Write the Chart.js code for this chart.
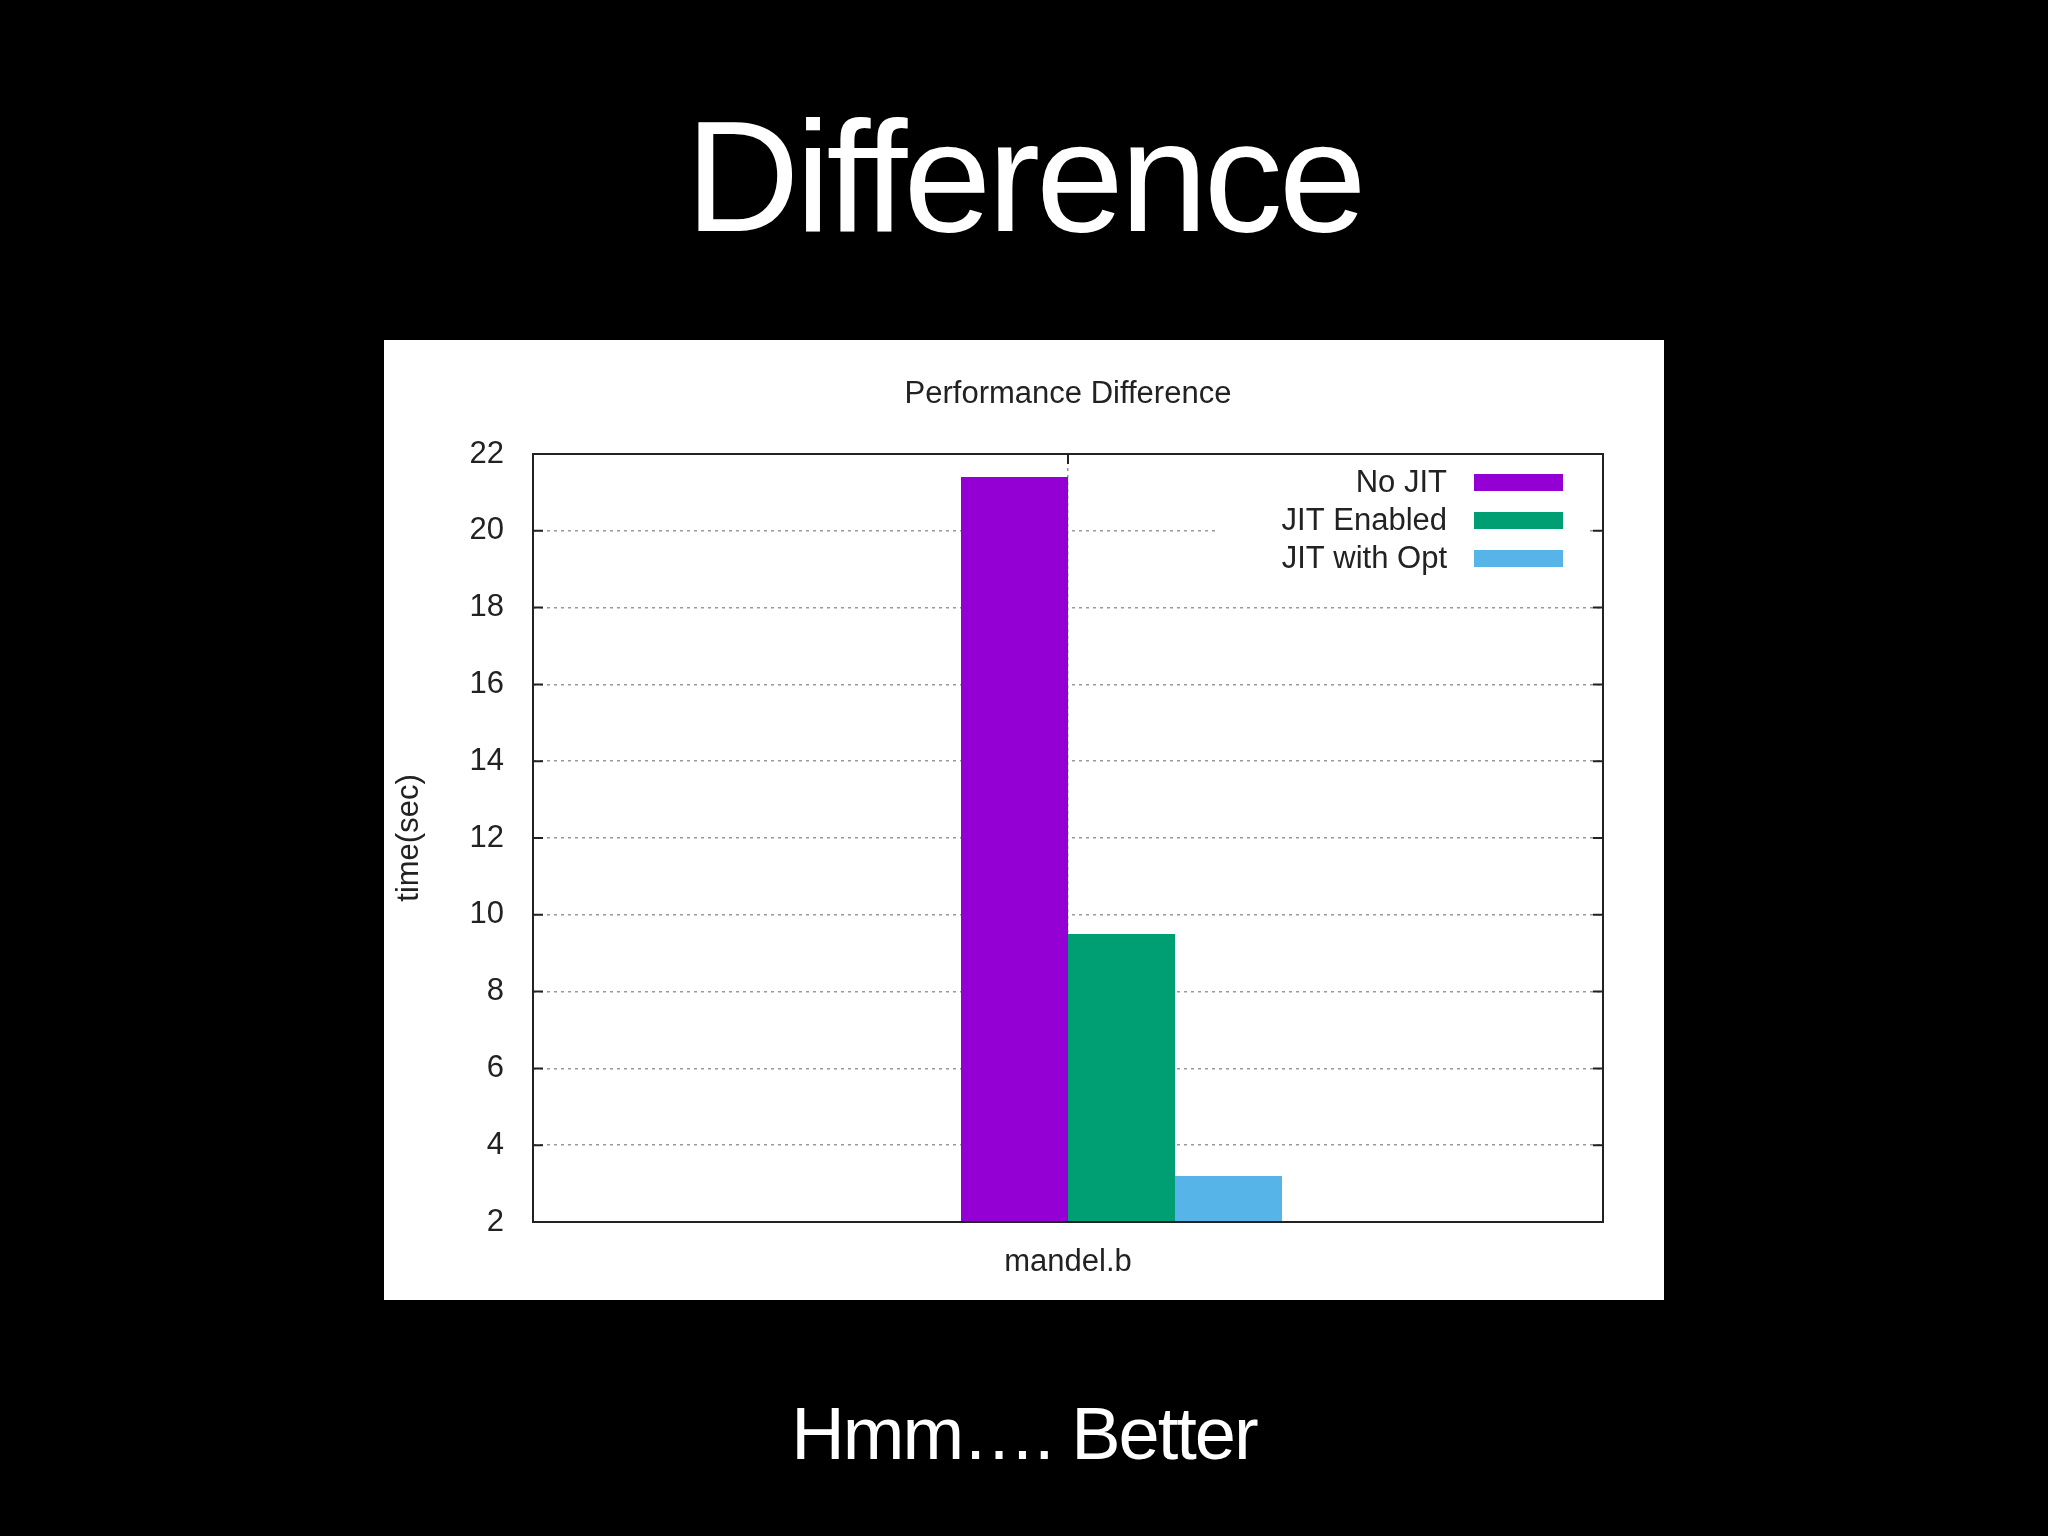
<!DOCTYPE html>
<html>
<head>
<meta charset="utf-8">
<script src="https://cdn.jsdelivr.net/npm/chart.js@4/dist/chart.umd.min.js"></script>
<style>
  html, body { margin: 0; padding: 0; background: #000; width: 2048px; height: 1536px; overflow: hidden; }
  .slideText { position: absolute; left: 0; width: 2048px; text-align: center; color: #fff;
    font-family: "Liberation Sans", Arial, sans-serif; line-height: 1; white-space: nowrap; }
  #heading { top: 97px; font-size: 158px; letter-spacing: -4px; }
  #caption { top: 1397px; font-size: 74px; letter-spacing: -2px; }
  #panel { position: absolute; left: 384px; top: 340px; width: 1280px; height: 960px; background: #fff; }
</style>
</head>
<body>
<div id="heading" class="slideText">Difference</div>
<div id="panel"><canvas id="chart"></canvas></div>
<div id="caption" class="slideText">Hmm…. Better</div>
<script>
'use strict';
let categories = ['mandel.b'];
let seriesNames = ['No JIT', 'JIT Enabled', 'JIT with Opt'];
let noJit = [21.4];
let jitEnabled = [9.5];
let jitWithOpt = [3.2];
let seriesColors = ['#9400d3', '#009e73', '#56b4e9'];
let yTicks = [2, 4, 6, 8, 10, 12, 14, 16, 18, 20, 22];
let chartTitle = 'Performance Difference';
let yTitle = 'time(sec)';

const textFont = { family: '"Liberation Sans", Arial, sans-serif', size: 31 };
const inkColor = '#222';

// gnuplot style: title, frame, inward ticks and the key inside the plot
const gnuplotLook = {
  id: 'gnuplotLook',
  afterDraw(chart) {
    const ctx = chart.ctx;
    const area = chart.chartArea;
    const yScale = chart.scales.y;
    const xScale = chart.scales.x;
    ctx.save();
    // key background covers the grid
    ctx.fillStyle = '#fff';
    ctx.fillRect(area.right - 388, area.top + 4, 372, 132);
    // key entries
    ctx.font = textFont.size + 'px ' + textFont.family;
    ctx.textAlign = 'right';
    ctx.textBaseline = 'middle';
    let row = 0;
    chart.data.datasets.forEach(ds => {
      if (!ds.label) return;
      const y = area.top + 28 + row * 38;
      ctx.fillStyle = inkColor;
      ctx.fillText(ds.label, area.right - 156, y + 1);
      ctx.fillStyle = ds.backgroundColor;
      ctx.fillRect(area.right - 129, y - 8, 89, 17);
      row++;
    });
    // inward ticks
    ctx.strokeStyle = inkColor;
    ctx.lineWidth = 2;
    ctx.beginPath();
    yTicks.forEach(v => {
      const py = yScale.getPixelForValue(v);
      ctx.moveTo(area.left, py); ctx.lineTo(area.left + 10, py);
      ctx.moveTo(area.right, py); ctx.lineTo(area.right - 10, py);
    });
    const px = xScale.getPixelForValue(0);
    ctx.moveTo(px, area.top); ctx.lineTo(px, area.top + 10);
    ctx.stroke();
    // frame
    ctx.strokeRect(area.left, area.top, area.right - area.left, area.bottom - area.top);
    // title
    ctx.fillStyle = inkColor;
    ctx.textAlign = 'center';
    ctx.fillText(chartTitle, (area.left + area.right) / 2, 54);
    ctx.restore();
  }
};

const datasets = [
  // empty slot so the cluster starts at the tic like gnuplot does
  { label: '', data: [null], backgroundColor: 'rgba(0,0,0,0)' },
  { label: seriesNames[0], data: noJit, backgroundColor: seriesColors[0] },
  { label: seriesNames[1], data: jitEnabled, backgroundColor: seriesColors[1] },
  { label: seriesNames[2], data: jitWithOpt, backgroundColor: seriesColors[2] }
];
datasets.forEach(ds => {
  ds.borderWidth = 0;
  ds.categoryPercentage = 0.4;
  ds.barPercentage = 1.0;
});

new Chart(document.getElementById('chart'), {
  type: 'bar',
  data: { labels: categories, datasets: datasets },
  plugins: [gnuplotLook],
  options: {
    responsive: true,
    maintainAspectRatio: false,
    animation: false,
    layout: { padding: { top: 114, right: 61, left: 0, bottom: 0 } },
    plugins: {
      legend: { display: false },
      tooltip: { enabled: false },
      title: { display: false }
    },
    scales: {
      x: {
        afterFit(scale) { scale.height = 78; },
        grid: { offset: false, drawTicks: false, color: '#999', lineWidth: 1.5, tickBorderDash: [], borderDash: [3, 4] },
        border: { display: false, dash: [3, 4] },
        ticks: { color: inkColor, font: textFont, padding: 22 }
      },
      y: {
        min: 2,
        max: 22,
        afterFit(scale) { scale.width = 149; },
        afterBuildTicks(scale) { scale.ticks = yTicks.map(v => ({ value: v })); },
        grid: { drawTicks: false, color: '#999', lineWidth: 1.5 },
        border: { display: false, dash: [3, 4] },
        ticks: { color: inkColor, font: textFont, padding: 29 },
        title: { display: true, text: yTitle, color: inkColor, font: textFont, padding: { top: 7, bottom: 0 } }
      }
    }
  }
});
</script>
</body>
</html>
